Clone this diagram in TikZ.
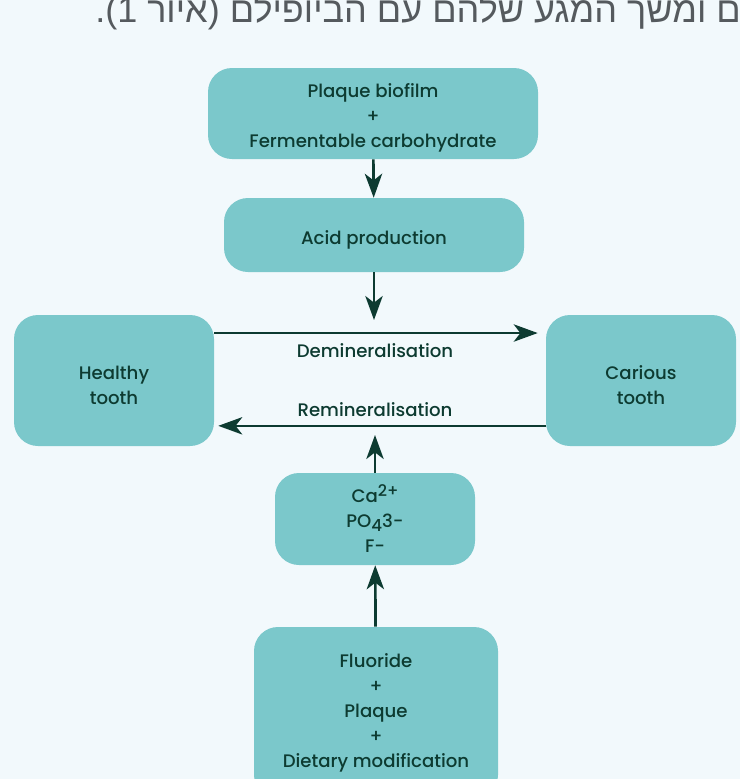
\documentclass[tikz,border=0pt]{standalone}
\usepackage{fontspec}
\setmainfont{Poppins Medium}
\newfontfamily\hebfont[Script=Hebrew]{Liberation Sans}
\TeXXeTstate=1
\usetikzlibrary{arrows.meta,positioning}
\definecolor{pagebg}{HTML}{F2F9FC}
\definecolor{boxfill}{HTML}{7BC8CB}
\definecolor{inkgreen}{HTML}{0D3B31}
\definecolor{hebgray}{HTML}{555A5E}
% taller first line, so the text sits a bit below the middle of its box
\newcommand\lift{\rule{0pt}{17.5pt}}
% charges and indices, nearly full size
\newcommand\ionup[1]{\raisebox{4.5pt}{\fontsize{12}{12}\selectfont #1}}
\newcommand\iondown[1]{\raisebox{-3pt}{\fontsize{12.5}{12}\selectfont #1}}
\tikzset{
  box/.style={draw=none,fill=boxfill,rounded corners=18pt,align=center,text=inkgreen,font=\fontsize{13.6}{18.75}\selectfont,inner sep=0pt},
  flow/.style={-{Stealth[length=18pt,width=13pt,inset=5pt]},line width=2pt,inkgreen},
  lbl/.style={text=inkgreen,font=\fontsize{13.6}{16}\selectfont},
}

\begin{document}
\begin{tikzpicture}[x=0.75pt,y=-0.75pt]

  \useasboundingbox (0,0) rectangle (740,779);
  \fill[pagebg] (0,0) rectangle (740,779);
  \clip (0,0) rectangle (740,779);

  % running text above the figure (cut by the page edge)
  \node[anchor=base west,text=hebgray,font=\hebfont\fontsize{27}{30}\selectfont,inner sep=0pt] (caption) at (95,22)
    {\beginR הנתונים ומשך המגע שלהם עם הביופילם (איור 1).\endR};

  % cause side
  \node[box,minimum width=247.5pt,minimum height=68.25pt] (plaq) at (373,113.5)
    {\lift Plaque biofilm\\+\\Fermentable carbohydrate};
  \node[box,minimum width=225pt,minimum height=55.5pt] (acid) at (374,235) {\lift Acid production};
  \coordinate (acidend) at (374,320);
  \draw[flow] (plaq) -- (acid);
  \draw[flow] (acid) -- (acidend);

  % the two states of the tooth
  \node[box,minimum width=150pt,minimum height=98.25pt] (healthy) at (114,380.5) {\lift Healthy\\tooth};
  \node[box,minimum width=142.5pt,minimum height=98.25pt] (carious) at (641,380.5) {\lift Carious\\tooth};
  \draw[flow] ([yshift=35.6pt]healthy.east) -- ([yshift=35.6pt,xshift=-6pt]carious.west);
  \draw[flow] ([yshift=-34pt]carious.west) -- ([yshift=-34pt,xshift=3pt]healthy.east);
  \node[lbl] (demin) at (375,351) {Demineralisation};
  \node[lbl] (remin) at (375,410) {Remineralisation};

  % repair side
  \node[box,minimum width=150pt,minimum height=69pt] (ions) at (375,519)
    {Ca\ionup{2+}\\PO\iondown{4}3-\\F-};
  \coordinate (ionend) at (375,435);
  \draw[flow] (ions) -- (ionend);
  \node[box,minimum width=183pt,minimum height=129pt] (fluor) at (376,713)
    {Fluoride\\+\\Plaque\\+\\Dietary modification};
  \draw[flow] (fluor) -- (ions);

\end{tikzpicture}
\end{document}
